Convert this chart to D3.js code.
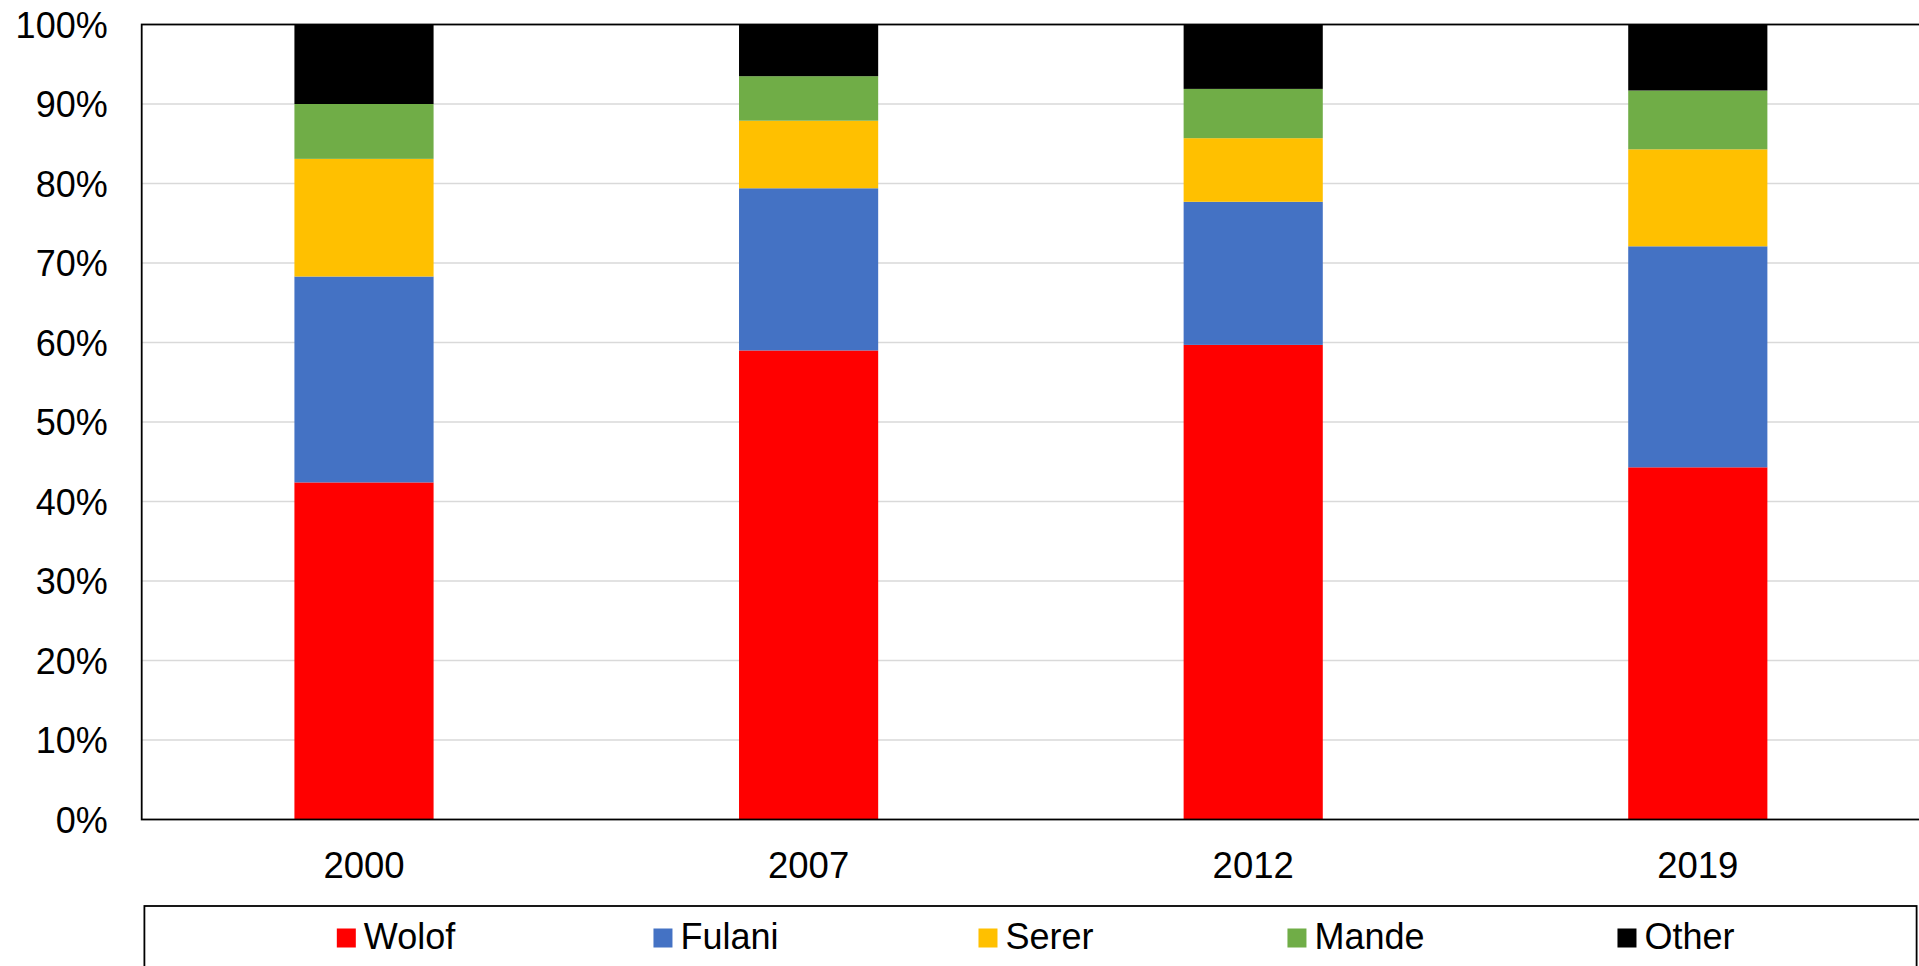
<!DOCTYPE html>
<html><head><meta charset="utf-8">
<script src="https://cdn.jsdelivr.net/npm/d3@7"></script>
<style>html,body{margin:0;padding:0;background:#fff;overflow:hidden}svg{display:block}</style>
</head><body>
<svg id="c" width="1919" height="966"></svg>
<script>
const years = ["2000", "2007", "2012", "2019"];
const groups = ["Wolof", "Fulani", "Serer", "Mande", "Other"];
const wolof  = [42.4, 59.0, 59.7, 44.3];
const fulani = [25.9, 20.4, 18.0, 27.8];
const serer  = [14.8, 8.5, 8.0, 12.2];
const mande  = [6.9, 5.6, 6.2, 7.4];
const other  = [10.0, 6.5, 8.1, 8.3];
const yTicks = [0, 10, 20, 30, 40, 50, 60, 70, 80, 90, 100];
const colors = ["#FF0000", "#4472C4", "#FFC000", "#70AD47", "#000000"];

const font = "'Liberation Sans', Arial, sans-serif";
const svg = d3.select("#c");
const L = 141.7, R = 1920.1, T = 24.5, B = 819.5;

const x = d3.scaleBand().domain(years).range([L, R]).paddingInner(0.687).paddingOuter(0.3435);
const y = d3.scaleLinear().domain([0, 100]).range([B, T]);

const rows = years.map((yr, i) => ({year: yr, Wolof: wolof[i], Fulani: fulani[i], Serer: serer[i], Mande: mande[i], Other: other[i]}));
const stacked = d3.stack().keys(groups)(rows);

// gridlines
svg.append("g").selectAll("line").data(yTicks.filter(t => t > 0 && t < 100)).join("line")
  .attr("x1", L).attr("x2", R).attr("y1", d => y(d)).attr("y2", d => y(d))
  .attr("stroke", "#D9D9D9").attr("stroke-width", 1.3);

// bars
svg.append("g").selectAll("g").data(stacked).join("g")
  .attr("fill", (d, i) => colors[i])
  .selectAll("rect").data(d => d).join("rect")
  .attr("x", d => x(d.data.year)).attr("width", x.bandwidth())
  .attr("y", d => y(d[1])).attr("height", d => y(d[0]) - y(d[1]));

// plot frame
svg.append("rect").attr("x", L).attr("y", T).attr("width", R - L).attr("height", B - T)
  .attr("fill", "none").attr("stroke", "#000").attr("stroke-width", 1.8);

// y axis labels
const yAxis = d3.axisLeft(y).tickValues(yTicks).tickFormat(d => d + "%").tickSize(0).tickPadding(34);
const ya = svg.append("g").attr("transform", `translate(${L},0)`).call(yAxis);
ya.select(".domain").remove();
ya.selectAll("text").attr("font-family", font).attr("font-size", 36).attr("fill", "#000").attr("dy", "0.36em");

// x axis labels
const xAxis = d3.axisBottom(x).tickSize(0).tickPadding(0);
const xa = svg.append("g").attr("transform", `translate(0,${B})`).call(xAxis);
xa.select(".domain").remove();
xa.selectAll("text").attr("font-family", font).attr("font-size", 36.5).attr("fill", "#000").attr("dy", null).attr("y", 58);

// legend
svg.append("rect").attr("x", 144.4).attr("y", 906).attr("width", 1916.6 - 144.4).attr("height", 100)
  .attr("fill", "none").attr("stroke", "#000").attr("stroke-width", 1.8);
const lg = svg.append("g");
groups.forEach((g, i) => {
  const item = lg.append("g");
  item.append("rect").attr("x", 0).attr("y", 928.5).attr("width", 19).attr("height", 19).attr("fill", colors[i]);
  const t = item.append("text").attr("x", 27).attr("y", 949.3).attr("font-family", font).attr("font-size", 36).attr("fill", "#000").text(g);
  const w = 27 + t.node().getComputedTextLength();
  const cx = 396 + i * 320;
  item.attr("transform", `translate(${cx - w / 2},0)`);
});
</script>
</body></html>
